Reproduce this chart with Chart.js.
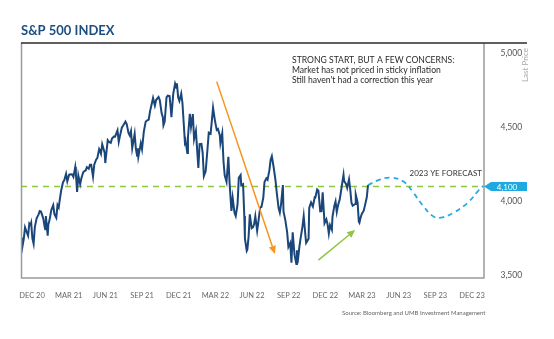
<!DOCTYPE html>
<html>
<head>
<meta charset="utf-8">
<script src="https://cdn.jsdelivr.net/npm/chart.js@4.4.1/dist/chart.umd.min.js"></script>
<style>
  html, body { margin: 0; padding: 0; background: #fff; }
  canvas { display: block; }
</style>
</head>
<body>
<canvas id="spx" width="554" height="339"></canvas>
<script>
// Quarter labels along the bottom axis
const quarterLabels = ['DEC 20', 'MAR 21', 'JUN 21', 'SEP 21', 'DEC 21', 'MAR 22', 'JUN 22',
  'SEP 22', 'DEC 22', 'MAR 23', 'JUN 23', 'SEP 23', 'DEC 23'];

// Price axis ticks and the year-end target
const priceTicks = [3500, 4000, 4500, 5000];
const targetLevel = 4100;

// S&P 500 closes (sampled sessions)
const closeDates = [
  '2020-12-31','2021-01-04','2021-01-06','2021-01-08','2021-01-12','2021-01-15','2021-01-20','2021-01-22',
  '2021-01-25','2021-01-27','2021-01-29','2021-02-02','2021-02-05','2021-02-10','2021-02-12','2021-02-17',
  '2021-02-19','2021-02-23','2021-02-25','2021-02-26','2021-03-01','2021-03-04','2021-03-05','2021-03-09',
  '2021-03-12','2021-03-17','2021-03-19','2021-03-24','2021-03-26','2021-03-30','2021-04-01','2021-04-06',
  '2021-04-09','2021-04-13','2021-04-16','2021-04-20','2021-04-23','2021-04-28','2021-04-30','2021-05-04',
  '2021-05-07','2021-05-10','2021-05-12','2021-05-14','2021-05-19','2021-05-21','2021-05-26','2021-05-28',
  '2021-06-02','2021-06-04','2021-06-09','2021-06-11','2021-06-15','2021-06-18','2021-06-22','2021-06-25',
  '2021-06-29','2021-07-02','2021-07-06','2021-07-08','2021-07-12','2021-07-16','2021-07-19','2021-07-23',
  '2021-07-27','2021-07-30','2021-08-03','2021-08-06','2021-08-10','2021-08-13','2021-08-16','2021-08-18',
  '2021-08-20','2021-08-25','2021-08-27','2021-09-02','2021-09-07','2021-09-10','2021-09-14','2021-09-16',
  '2021-09-20','2021-09-24','2021-09-28','2021-09-30','2021-10-01','2021-10-04','2021-10-08','2021-10-12',
  '2021-10-15','2021-10-20','2021-10-22','2021-10-27','2021-10-29','2021-11-03','2021-11-05','2021-11-10',
  '2021-11-12','2021-11-18','2021-11-22','2021-11-26','2021-11-30','2021-12-01','2021-12-03','2021-12-08',
  '2021-12-10','2021-12-15','2021-12-17','2021-12-20','2021-12-23','2021-12-29','2021-12-31','2022-01-03',
  '2022-01-05','2022-01-07','2022-01-12','2022-01-14','2022-01-19','2022-01-21','2022-01-24','2022-01-27',
  '2022-01-28','2022-02-02','2022-02-04','2022-02-09','2022-02-11','2022-02-16','2022-02-18','2022-02-23',
  '2022-02-25','2022-03-02','2022-03-04','2022-03-08','2022-03-11','2022-03-16','2022-03-18','2022-03-23',
  '2022-03-25','2022-03-29','2022-04-01','2022-04-06','2022-04-08','2022-04-13','2022-04-14','2022-04-20',
  '2022-04-22','2022-04-26','2022-04-29','2022-05-04','2022-05-06','2022-05-11','2022-05-13','2022-05-18',
  '2022-05-20','2022-05-25','2022-05-27','2022-06-02','2022-06-03','2022-06-08','2022-06-10','2022-06-13',
  '2022-06-16','2022-06-17','2022-06-22','2022-06-24','2022-06-29','2022-07-01','2022-07-06','2022-07-08',
  '2022-07-13','2022-07-15','2022-07-20','2022-07-22','2022-07-27','2022-07-29','2022-08-03','2022-08-05',
  '2022-08-10','2022-08-12','2022-08-16','2022-08-19','2022-08-24','2022-08-26','2022-08-31','2022-09-02',
  '2022-09-07','2022-09-12','2022-09-13','2022-09-16','2022-09-21','2022-09-23','2022-09-28','2022-09-30',
  '2022-10-04','2022-10-07','2022-10-12','2022-10-13','2022-10-14','2022-10-19','2022-10-21','2022-10-26',
  '2022-10-28','2022-11-02','2022-11-03','2022-11-09','2022-11-10','2022-11-15','2022-11-18','2022-11-23',
  '2022-11-25','2022-11-30','2022-12-02','2022-12-07','2022-12-09','2022-12-13','2022-12-16','2022-12-21',
  '2022-12-23','2022-12-28','2022-12-30','2023-01-05','2023-01-06','2023-01-11','2023-01-13','2023-01-18',
  '2023-01-20','2023-01-25','2023-01-27','2023-02-02','2023-02-03','2023-02-08','2023-02-10','2023-02-15',
  '2023-02-17','2023-02-22','2023-02-24','2023-03-02','2023-03-03','2023-03-08','2023-03-10','2023-03-13',
  '2023-03-15','2023-03-17','2023-03-22','2023-03-24','2023-03-29','2023-03-31'
];
const closeValues = [
  3756,3700,3748,3824,3801,3768,3851,3841,
  3855,3750,3714,3826,3887,3910,3934,3931,
  3907,3881,3829,3811,3901,3768,3842,3875,
  3943,3974,3913,3889,3975,3959,4020,4073,
  4129,4142,4185,4135,4180,4183,4181,4165,
  4232,4189,4063,4174,4116,4156,4196,4204,
  4208,4230,4220,4247,4247,4166,4247,4281,
  4291,4352,4343,4320,4385,4327,4258,4412,
  4401,4395,4423,4437,4436,4468,4479,4400,
  4441,4496,4509,4537,4521,4459,4443,4473,
  4358,4455,4353,4308,4357,4300,4391,4351,
  4471,4537,4545,4551,4605,4660,4697,4646,
  4683,4704,4683,4595,4567,4513,4538,4701,
  4712,4709,4621,4568,4726,4793,4766,4796,
  4701,4677,4726,4663,4533,4398,4410,4326,
  4432,4590,4501,4588,4419,4475,4349,4225,
  4385,4387,4329,4170,4204,4358,4463,4456,
  4543,4631,4546,4481,4488,4446,4392,4459,
  4272,4175,4132,4300,4123,3935,4024,3923,
  3901,3979,4158,4177,4109,4116,3901,3750,
  3666,3675,3760,3912,3819,3825,3845,3899,
  3801,3863,3959,3962,4024,4130,4155,4145,
  4210,4280,4305,4228,4140,4058,3955,3924,
  3980,4110,3932,3873,3790,3693,3719,3586,
  3791,3640,3577,3670,3583,3695,3752,3830,
  3901,3760,3720,3748,3956,3992,3965,4027,
  4026,4080,4072,3933,3934,4060,3852,3879,
  3845,3783,3840,3808,3895,3969,3999,3929,
  3972,4016,4071,4179,4136,4118,4090,4148,
  4079,3991,3970,3982,4045,3992,3862,3855,
  3892,3917,3937,3971,4027,4109
];

// 2023 path toward the year-end forecast
const forecastDates = ['2023-03-31','2023-04-24','2023-05-23','2023-06-26','2023-07-19','2023-08-11',
  '2023-09-05','2023-09-21','2023-10-20','2023-11-22','2023-12-15','2023-12-29'];
const forecastValues = [4109, 4140, 4160, 4133, 4059, 3964, 3897, 3890, 3924, 3991, 4066, 4105];

// NYSE closures, so the axis runs on trading sessions
const marketHolidays = [
  '2021-01-01','2021-01-18','2021-02-15','2021-04-02','2021-05-31','2021-07-05','2021-09-06','2021-11-25','2021-12-24',
  '2022-01-17','2022-02-21','2022-04-15','2022-05-30','2022-06-20','2022-07-04','2022-09-05','2022-11-24','2022-12-26',
  '2023-01-02','2023-01-16','2023-02-20','2023-04-07','2023-05-29','2023-06-19','2023-07-04','2023-09-04','2023-11-23','2023-12-25'
];

// Session number of each calendar date (2020-12-31 = 0)
const sessionOf = (() => {
  const closed = new Set(marketHolidays);
  const table = { '2020-12-31': 0 };
  const d = new Date(Date.UTC(2020, 11, 31));
  let n = 0;
  for (let i = 0; i < 1200; i++) {
    d.setUTCDate(d.getUTCDate() + 1);
    const key = d.toISOString().slice(0, 10);
    const wd = d.getUTCDay();
    if (wd !== 0 && wd !== 6 && !closed.has(key)) n++;
    table[key] = n;
  }
  return key => table[key];
})();

// Arrow annotations, in session / index units
const arrows = [
  { from: [318, 4807], to: [413, 3645], color: '#f7941d' },
  { from: [484, 3604], to: [544, 3807], color: '#8dc63f' }
];

const FONT = 'Lato, "Open Sans", sans-serif';

const decor = {
  id: 'decor',
  beforeDatasetsDraw(chart) {
    const { ctx, chartArea: a, scales: { y } } = chart;
    const ty = y.getPixelForValue(targetLevel);
    ctx.save();
    ctx.strokeStyle = '#8dc63f';
    ctx.lineWidth = 1.5;
    ctx.setLineDash([6, 5]);
    ctx.beginPath();
    ctx.moveTo(a.left, ty);
    ctx.lineTo(a.right, ty);
    ctx.stroke();
    ctx.restore();
  },
  afterDatasetsDraw(chart) {
    const { ctx, chartArea: a, scales: { x, y } } = chart;
    ctx.save();

    // frame
    ctx.strokeStyle = '#9a9a9a';
    ctx.lineWidth = 1.5;
    ctx.beginPath();
    ctx.moveTo(a.left + 0.5, a.top);
    ctx.lineTo(a.left + 0.5, a.bottom);
    ctx.lineTo(a.right, a.bottom);
    ctx.lineTo(a.right, a.top);
    ctx.stroke();
    // header rule
    ctx.strokeStyle = '#2b2b2b';
    ctx.lineWidth = 1.5;
    ctx.beginPath();
    ctx.moveTo(a.left, a.top);
    ctx.lineTo(527, a.top);
    ctx.stroke();

    // arrows
    arrows.forEach(ar => {
      const x0 = x.getPixelForValue(ar.from[0]), y0 = y.getPixelForValue(ar.from[1]);
      const x1 = x.getPixelForValue(ar.to[0]), y1 = y.getPixelForValue(ar.to[1]);
      const ang = Math.atan2(y1 - y0, x1 - x0);
      const hl = 8, hw = 3.6;
      const bx = x1 - hl * Math.cos(ang), by = y1 - hl * Math.sin(ang);
      ctx.strokeStyle = ar.color;
      ctx.fillStyle = ar.color;
      ctx.lineWidth = 1.5;
      ctx.beginPath();
      ctx.moveTo(x0, y0);
      ctx.lineTo(bx, by);
      ctx.stroke();
      ctx.beginPath();
      ctx.moveTo(x1, y1);
      ctx.lineTo(bx + hw * Math.sin(ang), by - hw * Math.cos(ang));
      ctx.lineTo(bx - hw * Math.sin(ang), by + hw * Math.cos(ang));
      ctx.closePath();
      ctx.fill();
    });

    // commentary
    ctx.fillStyle = '#2a2a2a';
    ctx.font = '8.6px ' + FONT;
    ctx.textAlign = 'left';
    ctx.textBaseline = 'middle';
    ctx.fillText('STRONG START, BUT A FEW CONCERNS:', 292, 60);
    ctx.fillText('Market has not priced in sticky inflation', 292, 70);
    ctx.fillText("Still haven't had a correction this year", 292, 80);

    const ty = y.getPixelForValue(targetLevel);
    ctx.fillStyle = '#333';
    ctx.font = '8px ' + FONT;
    ctx.textAlign = 'right';
    ctx.fillText('2023 YE FORECAST', 482, ty - 13);

    // target tag on the price axis
    ctx.fillStyle = '#1fa9e1';
    ctx.beginPath();
    ctx.moveTo(a.right, ty);
    ctx.lineTo(a.right + 7, ty - 4.5);
    ctx.lineTo(527, ty - 4.5);
    ctx.lineTo(527, ty + 4.5);
    ctx.lineTo(a.right + 7, ty + 4.5);
    ctx.closePath();
    ctx.fill();
    ctx.fillStyle = '#fff';
    ctx.font = '8px ' + FONT;
    ctx.textAlign = 'center';
    ctx.fillText(targetLevel.toLocaleString('en-US'), 507, ty + 0.5);

    // axis title
    ctx.save();
    ctx.translate(525, 65);
    ctx.rotate(-Math.PI / 2);
    ctx.fillStyle = '#a8a8a8';
    ctx.font = '8px ' + FONT;
    ctx.textAlign = 'center';
    ctx.fillText('Last Price', 0, 0);
    ctx.restore();

    // title and source
    ctx.fillStyle = '#1d4e80';
    ctx.font = 'bold 13px ' + FONT;
    ctx.textAlign = 'left';
    ctx.fillText('S&P 500 INDEX', 21, 31);
    ctx.fillStyle = '#666';
    ctx.font = '6px ' + FONT;
    ctx.fillText('Source: Bloomberg and UMB Investment Management', 342, 313);

    ctx.restore();
  }
};

new Chart(document.getElementById('spx'), {
  type: 'line',
  data: {
    datasets: [
      {
        data: closeDates.map((d, i) => ({ x: sessionOf(d), y: closeValues[i] })),
        borderColor: '#1b4679',
        borderWidth: 2,
        pointRadius: 0,
        tension: 0,
        xAxisID: 'x',
        yAxisID: 'y'
      },
      {
        data: forecastDates.map((d, i) => ({ x: sessionOf(d), y: forecastValues[i] })),
        borderColor: '#29abe2',
        borderWidth: 1.8,
        borderDash: [5, 4],
        pointRadius: 0,
        tension: 0.4,
        xAxisID: 'x',
        yAxisID: 'y'
      }
    ]
  },
  options: {
    responsive: false,
    animation: false,
    events: [],
    layout: { padding: { left: 21, top: 43, right: 0, bottom: 0 } },
    plugins: { legend: { display: false }, tooltip: { enabled: false } },
    scales: {
      x: { type: 'linear', display: false, min: -1.6, max: 754.4 },
      xq: {
        type: 'linear', axis: 'x', position: 'bottom',
        min: -0.3, max: 12.327,
        grid: { display: false },
        border: { display: false },
        afterBuildTicks: s => { s.ticks = quarterLabels.map((_, i) => ({ value: i })); },
        afterFit: s => { s.height = 61; },
        ticks: {
          autoSkip: false, maxRotation: 0, padding: 5,
          color: '#666', font: { family: FONT, size: 7.5 },
          callback: v => quarterLabels[v]
        }
      },
      y: {
        type: 'linear', position: 'right',
        min: 3483.1, max: 5067.4,
        grid: { display: false },
        border: { display: false },
        afterBuildTicks: s => { s.ticks = priceTicks.map(v => ({ value: v })); },
        afterFit: s => { s.width = 70; },
        ticks: {
          padding: 8.5, color: '#555', font: { family: FONT, size: 8.5 },
          callback: v => v.toLocaleString('en-US')
        }
      }
    }
  },
  plugins: [decor]
});
</script>
</body>
</html>
